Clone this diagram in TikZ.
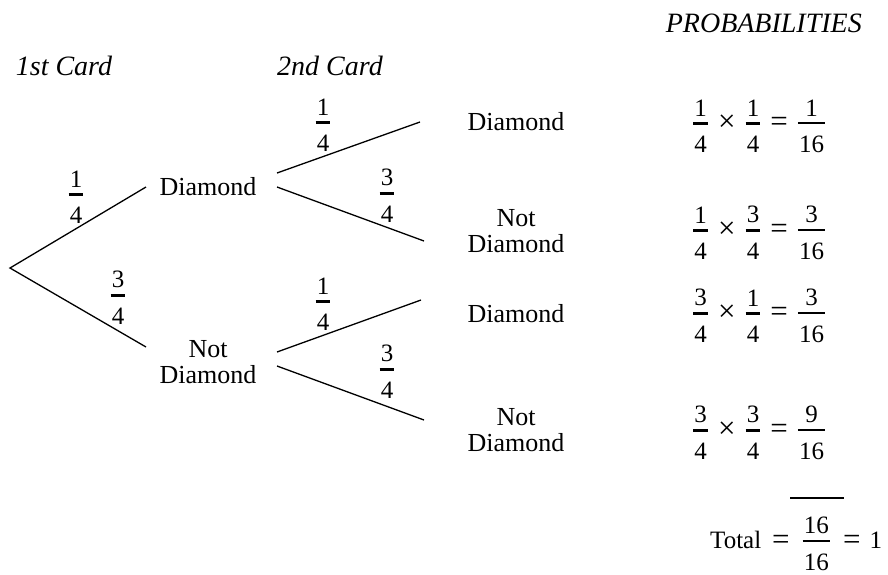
\documentclass[tikz,border=0pt]{standalone}
\usepackage{fontspec}
\setmainfont{Liberation Serif}
\newcommand\fr[2]{\raisebox{-22pt}{\vbox{\offinterlineskip\halign{\hfil\kern1.2pt##\kern1.2pt\hfil\cr #1\cr\noalign{\kern6pt\hrule height 2.4pt\kern11pt}#2\cr}}}}
\newcommand\twoline[2]{\begin{tabular}[b]{@{}c@{}}#1\\#2\end{tabular}}
\newcommand\bigop[1]{{\fontsize{31}{31}\selectfont\raisebox{-1pt}{#1}}}
\newcommand\rowprob[3]{\fr{#1}{4}\kern10pt\bigop{×}\kern10pt\fr{#2}{4}\kern10pt\bigop{=}\kern10pt\fr{#3}{16}}
\tikzset{
  branch/.style={line width=1.3pt},
  lbl/.style={inner sep=0pt, anchor=base, font=\fontsize{26}{26}\selectfont},
  head/.style={inner sep=0pt, anchor=base, font=\fontsize{28}{28}\selectfont\itshape},
  frac/.style={inner sep=0pt, anchor=base, font=\fontsize{25}{25}\selectfont},
  prob/.style={inner sep=0pt, anchor=base west, font=\fontsize{25}{25}\selectfont},
}
\begin{document}
\begin{tikzpicture}[x=1pt,y=-1pt]
\useasboundingbox (0,0) rectangle (888,574);
% headers
\node[head] (h1) at (64,75) {1st Card};
\node[head] (h2) at (330,75) {2nd Card};
\node[head, anchor=base east] (h3) at (862,32) {PROBABILITIES};
% tree points
\coordinate (root) at (10,268);
\coordinate (d1) at (146,187);
\coordinate (n1) at (146,347);
\coordinate (d1a) at (277,173);
\coordinate (d1b) at (277,187);
\coordinate (n1a) at (277,352);
\coordinate (n1b) at (277,366);
\coordinate (dd) at (420,122);
\coordinate (dn) at (424,241);
\coordinate (nd) at (421,300);
\coordinate (nn) at (424,420);
\draw[branch] (d1) -- (root) -- (n1);
\draw[branch] (d1a) -- (dd);
\draw[branch] (d1b) -- (dn);
\draw[branch] (n1a) -- (nd);
\draw[branch] (n1b) -- (nn);
% outcome labels
\node[lbl] (D1) at (208,195) {Diamond};
\node[lbl] (N1) at (208,383) {\twoline{Not}{Diamond}};
\node[lbl] (DD) at (516,130) {Diamond};
\node[lbl] (DN) at (516,252) {\twoline{Not}{Diamond}};
\node[lbl] (ND) at (516,322) {Diamond};
\node[lbl] (NN) at (516,451) {\twoline{Not}{Diamond}};
% branch probabilities
\node[frac] (p1) at (76,201) {\fr{1}{4}};
\node[frac] (p2) at (118,302) {\fr{3}{4}};
\node[frac] (p3) at (323,129) {\fr{1}{4}};
\node[frac] (p4) at (387,200) {\fr{3}{4}};
\node[frac] (p5) at (323,308) {\fr{1}{4}};
\node[frac] (p6) at (387,376) {\fr{3}{4}};
% probabilities column
\node[prob] (r1) at (693,130) {\rowprob{1}{1}{1}};
\node[prob] (r2) at (693,237) {\rowprob{1}{3}{3}};
\node[prob] (r3) at (693,320) {\rowprob{3}{1}{3}};
\node[prob] (r4) at (693,437) {\rowprob{3}{3}{9}};
\coordinate (s1) at (790,498);
\coordinate (s2) at (844,498);
\draw[line width=1.2pt] (s1) -- (s2);
\node[prob] (tot) at (710,548) {Total\kern11pt\bigop{=}\kern13pt\fr{16}{16}\kern13pt\bigop{=}\kern9pt1};
\end{tikzpicture}
\end{document}
